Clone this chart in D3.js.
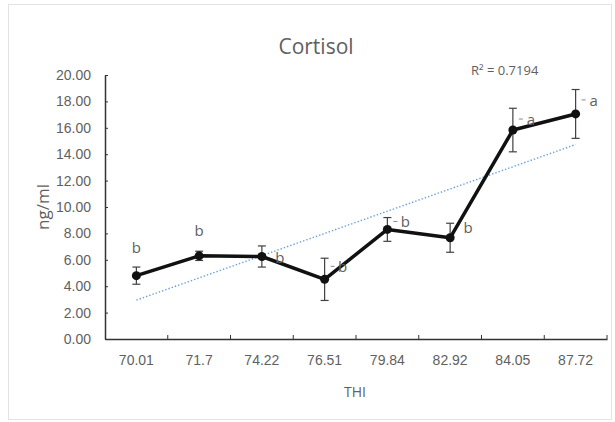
<!DOCTYPE html>
<html>
<head>
<meta charset="utf-8">
<script src="https://cdn.jsdelivr.net/npm/d3@7"></script>
<style>
  html, body { margin: 0; padding: 0; background: #fff; }
  svg { display: block; font-family: "Open Sans", "Noto Sans", sans-serif; }
</style>
</head>
<body>
<svg id="chart" width="615" height="422"></svg>
<script>
// Cortisol concentration by temperature-humidity index (THI)
const thiLabels = ["70.01", "71.7", "74.22", "76.51", "79.84", "82.92", "84.05", "87.72"];
const cortisol = [4.8, 6.3, 6.25, 4.52, 8.3, 7.67, 15.83, 17.05];
const errors = [0.65, 0.35, 0.8, 1.6, 0.9, 1.1, 1.65, 1.85];
const letters = ["b", "b", "b", "b", "b", "b", "a", "a"];
const yTicks = [0, 2, 4, 6, 8, 10, 12, 14, 16, 18, 20];
const rSquaredText = "R² = 0.7194";

const svg = d3.select("#chart");
const grey = "#5f5f5f";

// chart frame
svg.append("rect")
  .attr("x", 8.5).attr("y", 4.5).attr("width", 603).attr("height", 415)
  .attr("fill", "#fff").attr("stroke", "#e3e3e3").attr("stroke-width", 1);

const plot = { left: 105, right: 607, top: 75, bottom: 339 };

const x = d3.scaleBand().domain(thiLabels).range([plot.left, plot.right]);
const y = d3.scaleLinear().domain([0, 20]).range([plot.bottom, plot.top]);
const cx = d => x(d) + x.bandwidth() / 2;

// title
svg.append("text")
  .attr("x", 316).attr("y", 54)
  .attr("text-anchor", "middle")
  .attr("font-size", 21).attr("fill", grey)
  .text("Cortisol");

// y axis, ticks pointing inward
const yAxis = svg.append("g")
  .attr("transform", `translate(${plot.left},0)`)
  .call(d3.axisLeft(y).tickValues(yTicks).tickFormat(d3.format(".2f")).tickSizeInner(-3).tickSizeOuter(0).tickPadding(14));
yAxis.select(".domain").attr("stroke", "#333").attr("stroke-width", 1.5);
yAxis.selectAll(".tick line").attr("stroke", "#333");
yAxis.selectAll(".tick text").attr("fill", grey).attr("font-size", 14).attr("font-family", "inherit");

// x axis with ticks at category boundaries
const xAxis = svg.append("g")
  .attr("transform", `translate(0,${plot.bottom})`)
  .call(d3.axisBottom(x).tickSize(0).tickPadding(16));
xAxis.select(".domain").attr("stroke", "#333").attr("stroke-width", 1.5);
xAxis.selectAll(".tick text").attr("fill", grey).attr("font-size", 14).attr("font-family", "inherit");
xAxis.selectAll(".boundary")
  .data(thiLabels)
  .enter().append("line")
  .attr("x1", (d, i) => plot.left + x.step() * (i + 1))
  .attr("x2", (d, i) => plot.left + x.step() * (i + 1))
  .attr("y1", 0).attr("y2", -4)
  .attr("stroke", "#333");

// axis titles
svg.append("text")
  .attr("transform", "translate(49,207) rotate(-90)")
  .attr("text-anchor", "middle")
  .attr("font-size", 17).attr("fill", grey)
  .text("ng/ml");
svg.append("text")
  .attr("x", 355).attr("y", 397)
  .attr("text-anchor", "middle")
  .attr("font-size", 14).attr("fill", grey)
  .text("THI");

// linear trend line fitted on category index
const n = cortisol.length;
const xs = d3.range(1, n + 1);
const mx = d3.mean(xs), my = d3.mean(cortisol);
const slope = d3.sum(xs, (v, i) => (v - mx) * (cortisol[i] - my)) / d3.sum(xs, v => (v - mx) ** 2);
const intercept = my - slope * mx;
svg.append("line")
  .attr("x1", cx(thiLabels[0])).attr("y1", y(intercept + slope * 1))
  .attr("x2", cx(thiLabels[n - 1])).attr("y2", y(intercept + slope * n))
  .attr("stroke", "#6a9fd6").attr("stroke-width", 1.4)
  .attr("stroke-dasharray", "1.4,2");

svg.append("text")
  .attr("x", 471).attr("y", 75)
  .attr("font-size", 13).attr("fill", grey)
  .text(rSquaredText);

// error bars
const eb = svg.append("g").attr("stroke", "#404040").attr("stroke-width", 1.2);
thiLabels.forEach((t, i) => {
  const px = cx(t);
  const top = y(cortisol[i] + errors[i]), bot = y(cortisol[i] - errors[i]);
  eb.append("line").attr("x1", px).attr("x2", px).attr("y1", top).attr("y2", bot);
  eb.append("line").attr("x1", px - 4).attr("x2", px + 4).attr("y1", top).attr("y2", top);
  eb.append("line").attr("x1", px - 4).attr("x2", px + 4).attr("y1", bot).attr("y2", bot);
});

// mean line and markers
svg.append("path")
  .datum(cortisol)
  .attr("fill", "none").attr("stroke", "#111").attr("stroke-width", 3.5)
  .attr("stroke-linejoin", "round")
  .attr("d", d3.line().x((d, i) => cx(thiLabels[i])).y(d => y(d)));
svg.selectAll(".pt")
  .data(cortisol)
  .enter().append("circle")
  .attr("cx", (d, i) => cx(thiLabels[i])).attr("cy", d => y(d))
  .attr("r", 4.5).attr("fill", "#111");

// significance letters: the first two sit above the cap, the rest beside the marker
const letterDx = [0, 0, 18, 18, 18, 18, 18, 18];
const letterDy = [-20, -21, 0, -13, -8, -11, -11, -14];
const leader = [false, false, false, true, true, false, true, true];
svg.selectAll(".sig")
  .data(letters)
  .enter().append("text")
  .attr("font-size", 15).attr("fill", grey)
  .attr("text-anchor", "middle")
  .attr("dominant-baseline", "central")
  .attr("x", (d, i) => cx(thiLabels[i]) + letterDx[i])
  .attr("y", (d, i) => (i < 2 ? y(cortisol[i] + errors[i]) : y(cortisol[i])) + letterDy[i])
  .text(d => d);
svg.selectAll(".lead")
  .data(letters.filter((d, i) => leader[i]).map((d, k) => letters.map((v, i) => i).filter(i => leader[i])[k]))
  .enter().append("line")
  .attr("x1", i => cx(thiLabels[i]) + 6).attr("x2", i => cx(thiLabels[i]) + 10)
  .attr("y1", i => y(cortisol[i]) + letterDy[i]).attr("y2", i => y(cortisol[i]) + letterDy[i])
  .attr("stroke", "#888").attr("stroke-width", 1);
</script>
</body>
</html>
